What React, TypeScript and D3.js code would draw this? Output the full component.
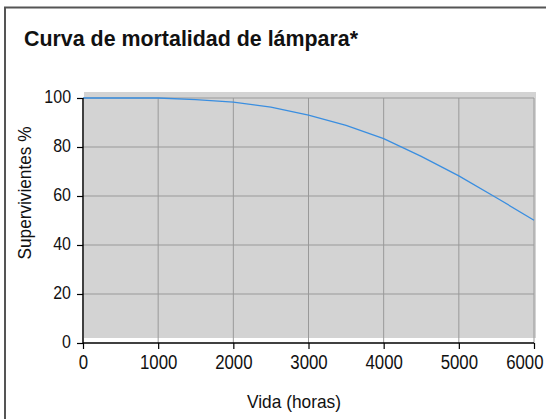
import { useEffect, useRef } from 'react'
import * as d3 from 'd3'

const hours = [0, 1000, 1500, 2000, 2500, 3000, 3500, 4000, 4500, 5000, 5500, 6000]
const survivors = [100, 100, 99.3, 98.3, 96.3, 93, 88.8, 83.4, 76.2, 68.2, 59.3, 50.1]
const xTicks = [0, 1000, 2000, 3000, 4000, 5000, 6000]
const yTicks = [0, 20, 40, 60, 80, 100]

const FONT = '"Liberation Sans", Arial, sans-serif'
const SQUEEZE = 0.84

// squeeze text horizontally to mimic the narrow face of the original
function narrow(sel: d3.Selection<any, any, any, any>, k: number) {
  sel.each(function () {
    const t = this as SVGTextElement
    const w = t.getComputedTextLength()
    t.setAttribute('textLength', String(w * k))
    t.setAttribute('lengthAdjust', 'spacingAndGlyphs')
  })
}

export default function App() {
  const svgRef = useRef<SVGSVGElement>(null)

  useEffect(() => {
    if (!svgRef.current) return
    const svg = d3.select(svgRef.current)
    svg.selectAll('*').remove()

    const left = 83, right = 534, top = 98, bottom = 343

    const x = d3.scaleLinear().domain([0, 6000]).range([left, right])
    const y = d3.scaleLinear().domain([0, 100]).range([bottom, top])

    // outer frame
    svg.append('rect')
      .attr('x', 5).attr('y', 7.5)
      .attr('width', 600).attr('height', 500)
      .attr('fill', '#fff')
      .attr('stroke', '#555')
      .attr('stroke-width', 2)

    svg.append('text')
      .attr('x', 24).attr('y', 46)
      .attr('font-family', FONT)
      .attr('font-size', 22)
      .attr('font-weight', 'bold')
      .attr('fill', '#111')
      .attr('textLength', 334)
      .attr('lengthAdjust', 'spacingAndGlyphs')
      .text('Curva de mortalidad de lámpara*')

    // plot background
    svg.append('rect')
      .attr('x', left + 1).attr('y', top - 6)
      .attr('width', right - left + 1).attr('height', bottom - top + 1)
      .attr('fill', '#d3d3d3')

    // grid
    const g = svg.append('g')
    g.selectAll('line.h').data(yTicks.filter(d => d > 0)).join('line')
      .attr('x1', left).attr('x2', right)
      .attr('y1', d => y(d)).attr('y2', d => y(d))
      .attr('stroke', '#999').attr('stroke-width', 1)
    g.selectAll('line.v').data(xTicks.filter(d => d > 0)).join('line')
      .attr('x1', d => x(d)).attr('x2', d => x(d))
      .attr('y1', top).attr('y2', bottom)
      .attr('stroke', '#999').attr('stroke-width', 1)

    // curve
    const line = d3.line<number>()
      .x((_, i) => x(hours[i]))
      .y(d => y(d))
    svg.append('path')
      .datum(survivors)
      .attr('fill', 'none')
      .attr('stroke', '#3a8ee0')
      .attr('stroke-width', 1.3)
      .attr('d', line)

    // axes
    const last = xTicks[xTicks.length - 1]
    svg.append('g')
      .attr('transform', `translate(0,${bottom})`)
      .call(d3.axisBottom(x).tickValues(xTicks).tickSize(6).tickPadding(6).tickFormat(d => String(d)))
      .call(a => a.select('.domain').attr('stroke', '#000').attr('stroke-width', 1.5).attr('d', `M${left},0H${right}`))
      .call(a => a.selectAll('.tick line').attr('stroke', '#000').attr('stroke-width', 1.2))
      .call(a => a.selectAll('text').attr('fill', '#111').attr('font-size', 20).attr('font-family', FONT))
      .call(a => narrow(a.selectAll<SVGTextElement, number>('.tick text').filter(d => d !== last), SQUEEZE))
      // last label pulled inside the frame, as in the original
      .call(a => a.selectAll<SVGTextElement, number>('.tick text')
        .filter(d => d === last)
        .attr('text-anchor', 'end')
        .attr('transform', `translate(9,0) scale(${SQUEEZE},1)`))

    svg.append('g')
      .attr('transform', `translate(${left},0)`)
      .call(d3.axisLeft(y).tickValues(yTicks).tickSize(6).tickPadding(6).tickFormat(d => String(d)))
      .call(a => a.select('.domain').attr('stroke', '#000').attr('stroke-width', 1.5).attr('d', `M0,${top}V${bottom}`))
      .call(a => a.selectAll('.tick line').attr('stroke', '#000').attr('stroke-width', 1.2))
      .call(a => a.selectAll('text').attr('fill', '#111').attr('font-size', 19).attr('font-family', FONT).attr('dy', '0.22em'))
      .call(a => narrow(a.selectAll('text'), SQUEEZE))

    svg.append('text')
      .attr('x', 294).attr('y', 408)
      .attr('text-anchor', 'middle')
      .attr('font-family', FONT)
      .attr('font-size', 19)
      .attr('fill', '#111')
      .attr('textLength', 94)
      .attr('lengthAdjust', 'spacingAndGlyphs')
      .text('Vida (horas)')

    svg.append('text')
      .attr('transform', `translate(31,193) rotate(-90)`)
      .attr('text-anchor', 'middle')
      .attr('font-family', FONT)
      .attr('font-size', 19)
      .attr('fill', '#111')
      .attr('textLength', 133)
      .attr('lengthAdjust', 'spacingAndGlyphs')
      .text('Supervivientes %')
  }, [])

  return (
    <svg ref={svgRef} width={546} height={419}
      style={{ position: 'absolute', left: 0, top: 0, background: '#fff' }} />
  )
}
